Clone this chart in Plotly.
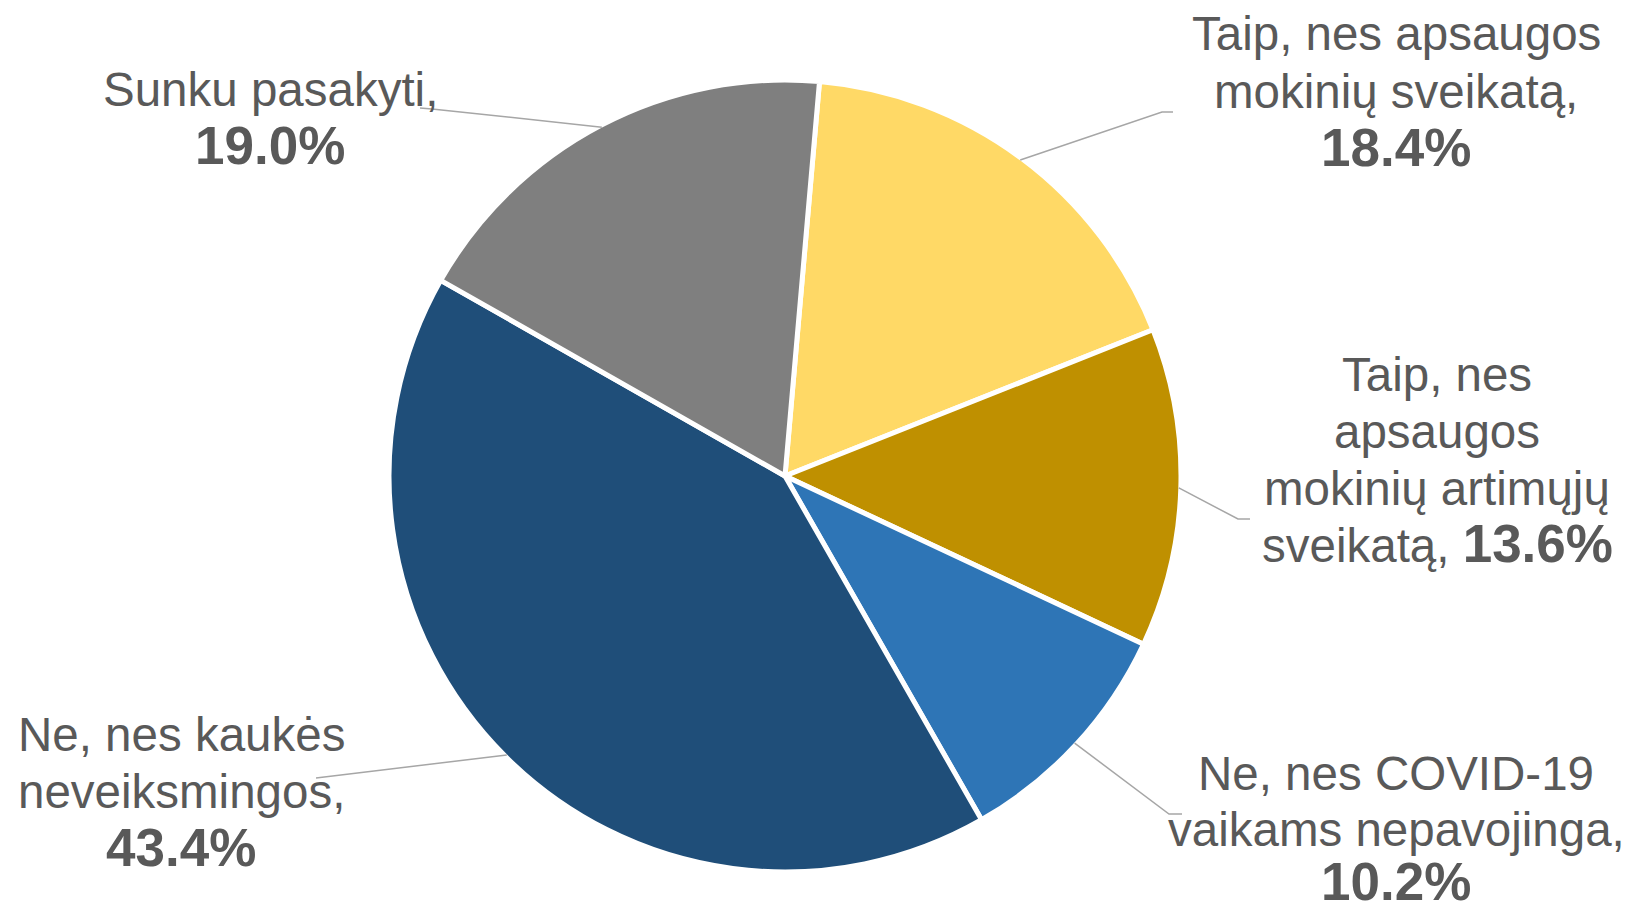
import math
import plotly.graph_objects as go

# ---------------- data ----------------
categories = [
    "Taip, nes apsaugos mokinių sveikatą",
    "Taip, nes apsaugos mokinių artimųjų sveikatą",
    "Ne, nes COVID-19 vaikams nepavojinga",
    "Ne, nes kaukės neveiksmingos",
    "Sunku pasakyti",
]
values = [18.4, 13.6, 10.2, 43.4, 19.0]
colors = ["#FFD966", "#BF9000", "#2E75B6", "#1F4E79", "#7F7F7F"]

# label text lines (the percentage is appended from the values)
label_lines = [
    ["Taip, nes apsaugos", "mokinių sveikatą,", "{p}"],
    ["Taip, nes", "apsaugos", "mokinių artimųjų", "sveikatą, {p}"],
    ["Ne, nes COVID-19", "vaikams nepavojinga,", "{p}"],
    ["Ne, nes kaukės", "neveiksmingos,", "{p}"],
    ["Sunku pasakyti,", "{p}"],
]

# ---------------- layout settings ----------------
W, H = 1631, 911
CX, CY, R = 785, 476, 396          # pie centre / radius in px
ROT = 5                            # start angle (deg, clockwise from 12 o'clock)
FS, FSB = 47.5, 53                 # regular / bold font sizes
TXT = "#595959"
FONT = "Liberation Sans, Arial, sans-serif"

# label placement (centre x, baselines y) in px
label_x = [1396, 1437, 1396, 181, 270]
label_base = [
    [50, 108, 166],
    [391, 448, 505, 562],
    [790, 846, 900],
    [751, 808, 866],
    [106, 164],
]
# leader-line elbows (from label side) in px
leader_pts = [
    [(1162, 112), (1173, 112)],
    [(1238, 519), (1250, 519)],
    [(1169, 814), (1182, 814)],
    [(316, 778)],
    [(432, 109), (420, 108)],
]

def px(x):
    return x / W

def py(y):
    return 1 - y / H

fig = go.Figure(
    go.Pie(
        labels=categories,
        values=values,
        sort=False,
        direction="clockwise",
        rotation=ROT,
        marker=dict(colors=colors, line=dict(color="white", width=5)),
        textinfo="none",
        hoverinfo="label+percent",
        showlegend=False,
        domain=dict(x=[px(CX - R), px(CX + R)], y=[py(CY + R), py(CY - R)]),
    )
)

annotations = []
shapes = []
total = sum(values)
cum = 0.0
for i, v in enumerate(values):
    pct = f"<span style='font-size:{FSB}px'><b>{v:.1f}%</b></span>"
    for j, line in enumerate(label_lines[i]):
        has_bold = "{p}" in line
        text = line.replace("{p}", pct)
        fs_box = FSB if has_bold else FS
        yb = label_base[i][j]
        annotations.append(dict(
            x=px(label_x[i]), y=py(yb - 0.3465 * fs_box),
            xref="paper", yref="paper", xanchor="center", yanchor="middle",
            text=text, showarrow=False,
            font=dict(family=FONT, size=FS, color=TXT),
        ))
    # leader line from slice middle on the pie edge
    mid = math.radians(ROT + 360 * (cum + v / 2) / total)
    ex = CX + (R - 2) * math.sin(mid)
    ey = CY - (R - 2) * math.cos(mid)
    pts = [(ex, ey)] + leader_pts[i]
    path = "M " + " L ".join(f"{px(x):.5f},{py(y):.5f}" for x, y in pts)
    shapes.append(dict(type="path", xref="paper", yref="paper", path=path,
                       line=dict(color="#A6A6A6", width=1.5)))
    cum += v

fig.update_layout(
    width=W, height=H,
    margin=dict(l=0, r=0, t=0, b=0),
    paper_bgcolor="white", plot_bgcolor="white",
    annotations=annotations, shapes=shapes,
    font=dict(family=FONT, color=TXT),
)

fig.write_html(
    "out.html",
    config={"displayModeBar": False},
    post_script="document.body.style.margin='0';document.body.style.overflow='hidden';",
)
